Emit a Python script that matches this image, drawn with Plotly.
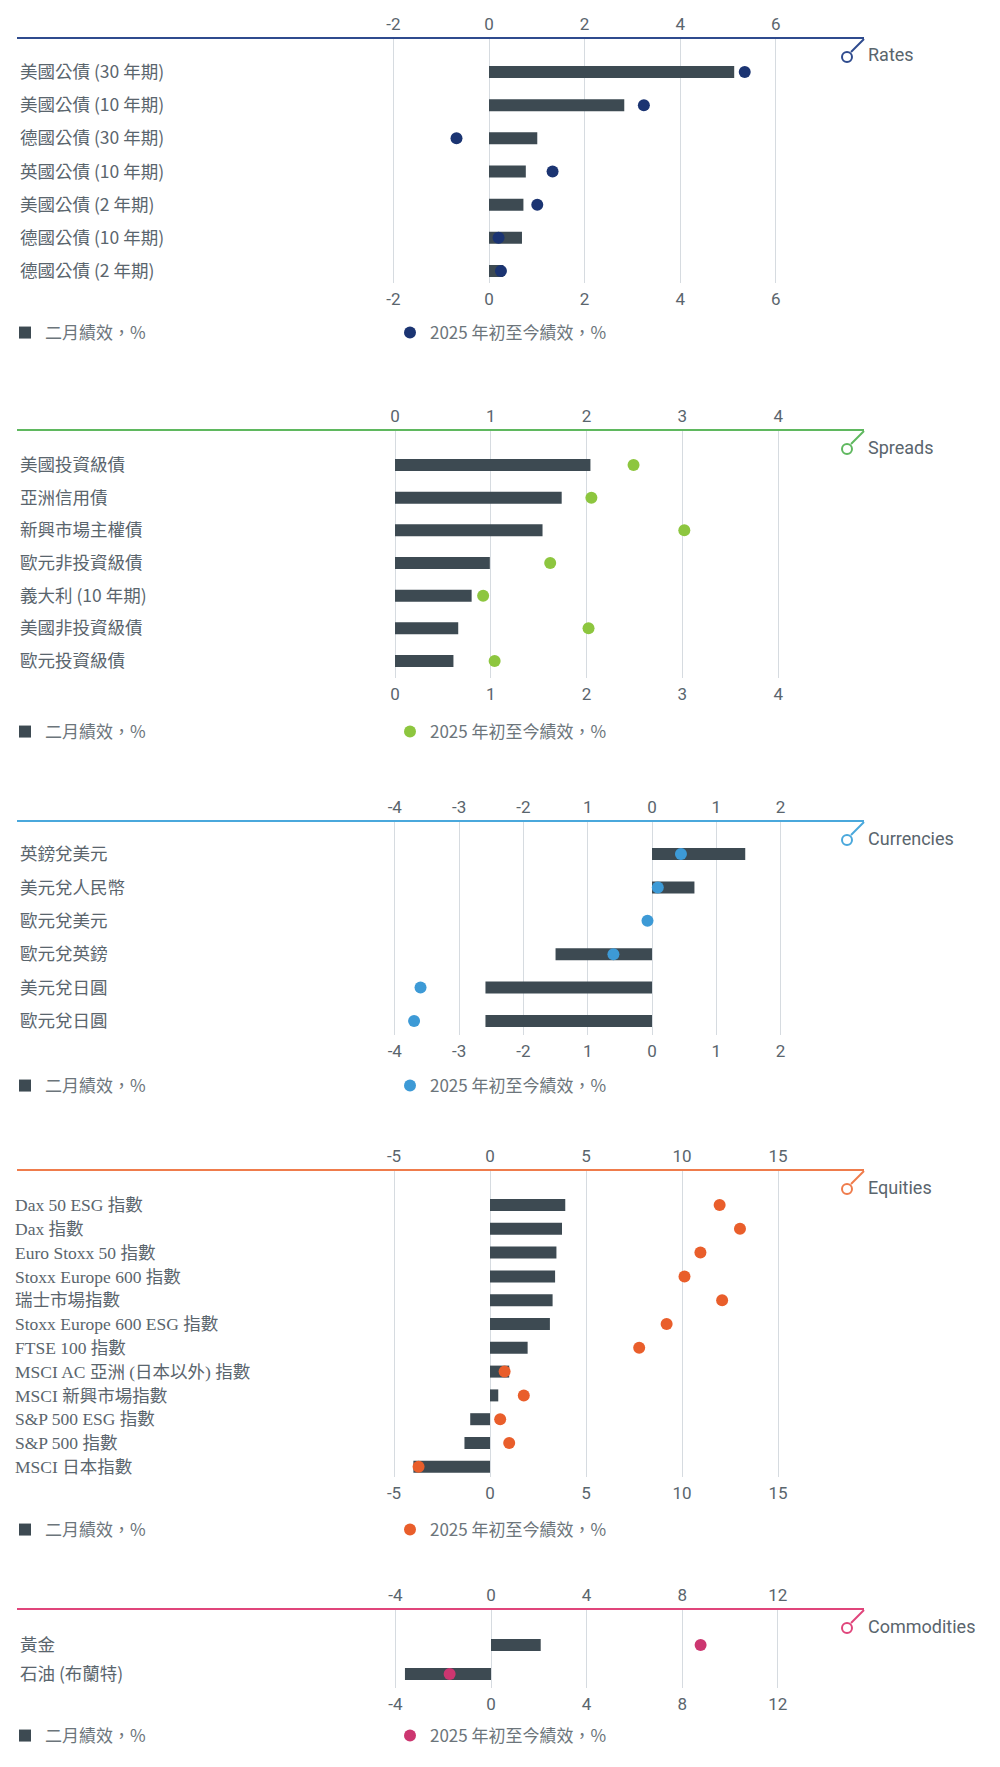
# 二月績效 vs 2025 年初至今績效 - five panels

import plotly.graph_objects as go

# ---- data ----
rates_cats = ["美國公債 (30 年期)", "美國公債 (10 年期)", "德國公債 (30 年期)", "英國公債 (10 年期)",
              "美國公債 (2 年期)", "德國公債 (10 年期)", "德國公債 (2 年期)"]
rates_feb = [5.13, 2.83, 1.01, 0.77, 0.72, 0.69, 0.30]
rates_ytd = [5.35, 3.24, -0.68, 1.33, 1.01, 0.20, 0.25]

spreads_cats = ["美國投資級債", "亞洲信用債", "新興市場主權債", "歐元非投資級債",
                "義大利 (10 年期)", "美國非投資級債", "歐元投資級債"]
spreads_feb = [2.04, 1.74, 1.54, 0.99, 0.80, 0.66, 0.61]
spreads_ytd = [2.49, 2.05, 3.02, 1.62, 0.92, 2.02, 1.04]

fx_cats = ["英鎊兌美元", "美元兌人民幣", "歐元兌美元", "歐元兌英鎊", "美元兌日圓", "歐元兌日圓"]
fx_feb = [1.45, 0.66, 0.0, -1.50, -2.59, -2.59]
fx_ytd = [0.45, 0.09, -0.07, -0.60, -3.60, -3.70]

eq_cats = ["Dax 50 ESG 指數", "Dax 指數", "Euro Stoxx 50 指數", "Stoxx Europe 600 指數", "瑞士市場指數",
           "Stoxx Europe 600 ESG 指數", "FTSE 100 指數", "MSCI AC 亞洲 (日本以外) 指數", "MSCI 新興市場指數",
           "S&P 500 ESG 指數", "S&P 500 指數", "MSCI 日本指數"]
eq_feb = [3.92, 3.75, 3.46, 3.39, 3.26, 3.12, 1.96, 1.00, 0.43, -1.03, -1.33, -3.99]
eq_ytd = [11.96, 13.02, 10.96, 10.13, 12.09, 9.20, 7.77, 0.76, 1.76, 0.53, 1.00, -3.72]

com_cats = ["黃金", "石油 (布蘭特)"]
com_feb = [2.08, -3.60]
com_ytd = [8.77, -1.73]

rates_ticks = [-2, 0, 2, 4, 6]
spreads_ticks = [0, 1, 2, 3, 4]
fx_ticks = [-4, -3, -2, -1, 0, 1, 2]
fx_ticktext = ["-4", "-3", "-2", "1", "0", "1", "2"]
eq_ticks = [-5, 0, 5, 10, 15]
com_ticks = [-4, 0, 4, 8, 12]

feb_name = "二月績效，%"
ytd_name = "2025 年初至今績效，%"

# ---- layout geometry (pixels) ----
W, H = 1000, 1767
LEFT, RIGHT = 17, 864
BAR = "#3d4a52"
TXT = "#5a656d"
SANS = "Noto Sans CJK TC"
SERIF = "Liberation Serif, Noto Sans CJK TC"

sections = [
    dict(title="Rates", line="#2f4b8e", dot="#1b3472", cats=rates_cats, feb=rates_feb, ytd=rates_ytd,
         ticks=rates_ticks, ticktext=None, top=39, row0=72, step=33.17, bottom=283, zero=489, unit=47.8,
         legend=333, font=SANS, shift=0),
    dict(title="Spreads", line="#5fb85f", dot="#8dc63f", cats=spreads_cats, feb=spreads_feb, ytd=spreads_ytd,
         ticks=spreads_ticks, ticktext=None, top=431, row0=465, step=32.67, bottom=678, zero=395, unit=95.8,
         legend=732, font=SANS, shift=0),
    dict(title="Currencies", line="#4aa8dc", dot="#3d9ad6", cats=fx_cats, feb=fx_feb, ytd=fx_ytd,
         ticks=fx_ticks, ticktext=fx_ticktext, top=822, row0=854, step=33.4, bottom=1035, zero=652, unit=64.3,
         legend=1086, font=SANS, shift=0),
    dict(title="Equities", line="#ef7c4c", dot="#e95e2b", cats=eq_cats, feb=eq_feb, ytd=eq_ytd,
         ticks=eq_ticks, ticktext=None, top=1171, row0=1205, step=23.8, bottom=1477, zero=490, unit=19.2,
         legend=1530, font=SERIF, shift=-5),
    dict(title="Commodities", line="#e0457b", dot="#cc3670", cats=com_cats, feb=com_feb, ytd=com_ytd,
         ticks=com_ticks, ticktext=None, top=1610, row0=1645, step=29, bottom=1688, zero=491, unit=23.9,
         legend=1736, font=SANS, shift=0),
]


def px(x):
    return x / W


def py(y):
    return 1 - y / H


fig = go.Figure()
shapes = []
annotations = []
layout = {}

for i, s in enumerate(sections, start=1):
    sfx = "" if i == 1 else str(i)
    top_ax = str(i + 5)
    leg = "legend" + sfx
    xr = [(LEFT - s["zero"]) / s["unit"], (RIGHT - s["zero"]) / s["unit"]]
    yr = [(s["bottom"] - s["row0"]) / s["step"], (s["top"] - s["row0"]) / s["step"]]
    ticktext = s["ticktext"] or [str(t) for t in s["ticks"]]

    fig.add_trace(go.Bar(
        x=s["feb"], y=s["cats"], orientation="h", name=feb_name,
        marker=dict(color=BAR, line=dict(width=0)), width=12 / s["step"],
        xaxis="x" + sfx, yaxis="y" + sfx, legend=leg,
    ))
    fig.add_trace(go.Scatter(
        x=s["ytd"], y=s["cats"], mode="markers", name=ytd_name,
        marker=dict(color=s["dot"], size=12),
        xaxis="x" + sfx, yaxis="y" + sfx, legend=leg,
    ))
    # invisible copy so the top (label) axis gets drawn
    fig.add_trace(go.Scatter(
        x=s["ytd"], y=s["cats"], mode="markers", marker=dict(opacity=0),
        showlegend=False, hoverinfo="skip", xaxis="x" + top_ax, yaxis="y" + sfx,
    ))

    dom_y = [py(s["bottom"]), py(s["top"])]
    tick_font = dict(family="Roboto", size=17, color=TXT)
    layout["xaxis" + sfx] = dict(
        domain=[px(LEFT), px(RIGHT)], anchor="y" + sfx, range=xr, tickvals=s["ticks"], ticktext=ticktext,
        showgrid=True, gridcolor="#d6dbe0", gridwidth=1, zeroline=False, showline=False,
        tickfont=tick_font, side="bottom", ticklabelstandoff=4, fixedrange=True,
    )
    layout["xaxis" + top_ax] = dict(
        overlaying="x" + sfx, anchor="y" + sfx, range=xr, tickvals=s["ticks"], ticktext=ticktext,
        side="top", showgrid=False, zeroline=False, showline=True, linecolor=s["line"], linewidth=2,
        tickfont=tick_font, fixedrange=True,
    )
    layout["yaxis" + sfx] = dict(
        domain=dom_y, anchor="x" + sfx, range=yr, type="category", ticklabelposition="inside",
        showgrid=False, zeroline=False, showline=False, ticks="", ticklabelstandoff=s["shift"],
        tickfont=dict(family=s["font"], size=17.5, color=TXT), fixedrange=True,
    )
    layout[leg] = dict(
        orientation="h", x=px(5), xanchor="left", y=py(s["legend"]), yanchor="middle",
        entrywidth=340, entrywidthmode="pixels", bgcolor="rgba(0,0,0,0)",
        font=dict(family=SANS, size=17, color="#6c757b"),
    )

    # the little hook + ring at the end of the top rule
    t = s["top"]
    shapes.append(dict(type="line", xref="paper", yref="paper",
                       x0=px(RIGHT), y0=py(t), x1=px(851), y1=py(t + 13),
                       line=dict(color=s["line"], width=2)))
    shapes.append(dict(type="circle", xref="paper", yref="paper",
                       x0=px(842), x1=px(852), y0=py(t + 13), y1=py(t + 23),
                       line=dict(color=s["line"], width=2), fillcolor="white"))
    annotations.append(dict(text=s["title"], xref="paper", yref="paper", x=px(866), y=py(t + 16),
                            xanchor="left", yanchor="middle", showarrow=False,
                            font=dict(family="Roboto", size=18, color=TXT)))

fig.update_layout(
    width=W, height=H, margin=dict(l=0, r=0, t=0, b=0),
    paper_bgcolor="white", plot_bgcolor="white",
    barmode="overlay", showlegend=True,
    shapes=shapes, annotations=annotations,
    **layout,
)

fig.write_html("out.html", config={"displayModeBar": False},
               post_script="document.body.style.margin='0';")
